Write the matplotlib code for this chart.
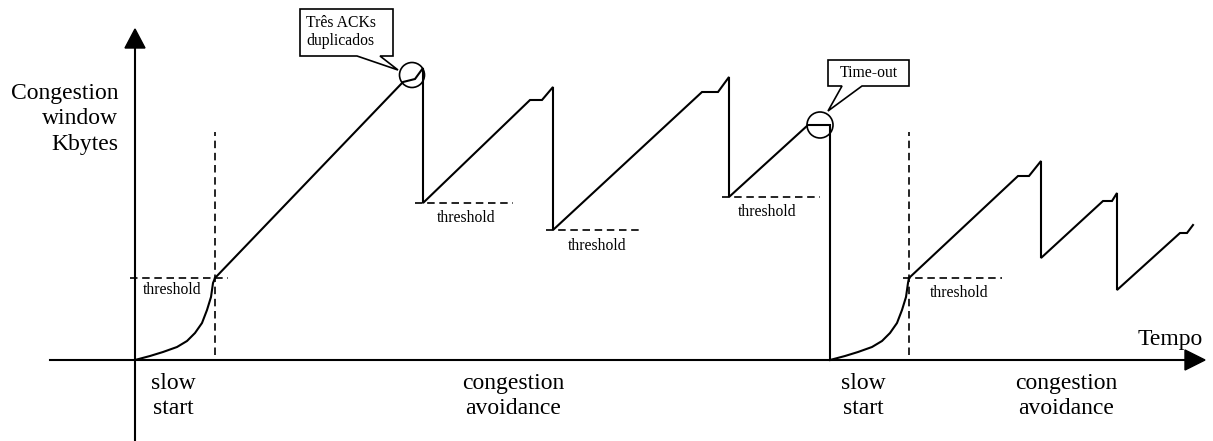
import matplotlib
matplotlib.use("Agg")
from matplotlib import pyplot as plt
from matplotlib.patches import Polygon, Circle

# coordinates: time to the right of the origin, window above the time axis
ss1_t = [0, 15, 28, 42, 52, 60, 67, 72, 76, 78, 80]
ss1_w = [0, 4, 8, 13, 19, 27, 37, 50, 63, 77, 82]
ca1_t = [80, 268, 280, 288, 288, 395, 407, 418, 418, 567, 583, 594, 594, 673, 695, 695]
ca1_w = [82, 278, 281, 292, 157, 260, 260, 273, 130, 268, 268, 283, 163, 235, 235, 0]
ss2_t = [695, 710, 723, 737, 747, 755, 762, 767, 771, 773, 774]
ss2_w = [0, 4, 8, 13, 19, 27, 37, 50, 63, 77, 82]
ca2_t = [774, 883, 894, 906, 906, 968, 977, 982, 982, 1045, 1052, 1058]
ca2_w = [82, 184, 184, 199, 102, 159, 159, 167, 70, 127, 127, 135]

thr_x0 = [-5, 280, 411, 587, 768]
thr_x1 = [93, 378, 508, 685, 867]
thr_w = [82, 157, 130, 163, 82]
thr_lbl_t = [37, 331, 462, 632, 824]
thr_lbl_w = [70, 142, 114, 148, 67]
ss_end_t = [80, 774]

phase_lbl = ["slow\nstart", "congestion\navoidance", "slow\nstart", "congestion\navoidance"]
phase_t = [38, 378, 728, 931]

fig = plt.figure(figsize=(12.13, 4.41), dpi=100)
ax = fig.add_axes([0, 0, 1, 1])
ax.set_xlim(-135, 1078)
ax.set_ylim(-81, 360)
ax.axis("off")

serif = "Liberation Serif"
lw = 1.5

# axes with arrow heads
ax.plot([-85, 1055], [0, 0], color="black", lw=lw)
ax.plot([0, 0], [-81, 315], color="black", lw=lw)
ax.add_patch(Polygon([(1050, 10), (1070, 0), (1050, -10)], closed=True, color="black"))
ax.add_patch(Polygon([(-10, 312), (0, 331), (10, 312)], closed=True, color="black"))

# congestion window
for t, w in [(ss1_t, ss1_w), (ca1_t, ca1_w), (ss2_t, ss2_w), (ca2_t, ca2_w)]:
    ax.plot(t, w, color="black", lw=lw, solid_joinstyle="miter")

# thresholds
dash = (0, (4.5, 2.8))
for x0, x1, w in zip(thr_x0, thr_x1, thr_w):
    ax.plot([x0, x1], [w, w], color="black", lw=1.2, linestyle=dash)
for x in ss_end_t:
    ax.plot([x, x], [5, 228], color="black", lw=1.2, linestyle=dash)
for x, y in zip(thr_lbl_t, thr_lbl_w):
    ax.text(x, y, "threshold", family=serif, fontsize=11.3, ha="center", va="center")

# events
ax.add_patch(Circle((277, 285), 12.5, fill=False, lw=1.2, color="black"))
ax.add_patch(Circle((685, 235), 13, fill=False, lw=1.2, color="black"))
ax.add_patch(Polygon([(165, 351), (258, 351), (258, 304), (245, 304), (263, 290),
                      (222, 304), (165, 304)], closed=True, fill=False, lw=1.2,
                     edgecolor="black", joinstyle="miter"))
ax.text(171, 328, "Três ACKs\nduplicados", family=serif, fontsize=11.3, ha="left",
        va="center", linespacing=1.1)
ax.add_patch(Polygon([(693, 300), (774, 300), (774, 274), (727, 274), (693, 249),
                      (707, 274), (693, 274)], closed=True, fill=False, lw=1.2,
                     edgecolor="black", joinstyle="miter"))
ax.text(734, 287, "Time-out", family=serif, fontsize=11.3, ha="center", va="center")

# labels
ax.text(-17, 241, "Congestion\nwindow\nKbytes", family=serif, fontsize=17, ha="right",
        va="center", multialignment="right", linespacing=1.3)
ax.text(1035, 20, "Tempo", family=serif, fontsize=17, ha="center", va="center")
for x, s in zip(phase_t, phase_lbl):
    ax.text(x, -36, s, family=serif, fontsize=17, ha="center", va="center", linespacing=1.25)

fig.savefig("out.png", dpi=100)
